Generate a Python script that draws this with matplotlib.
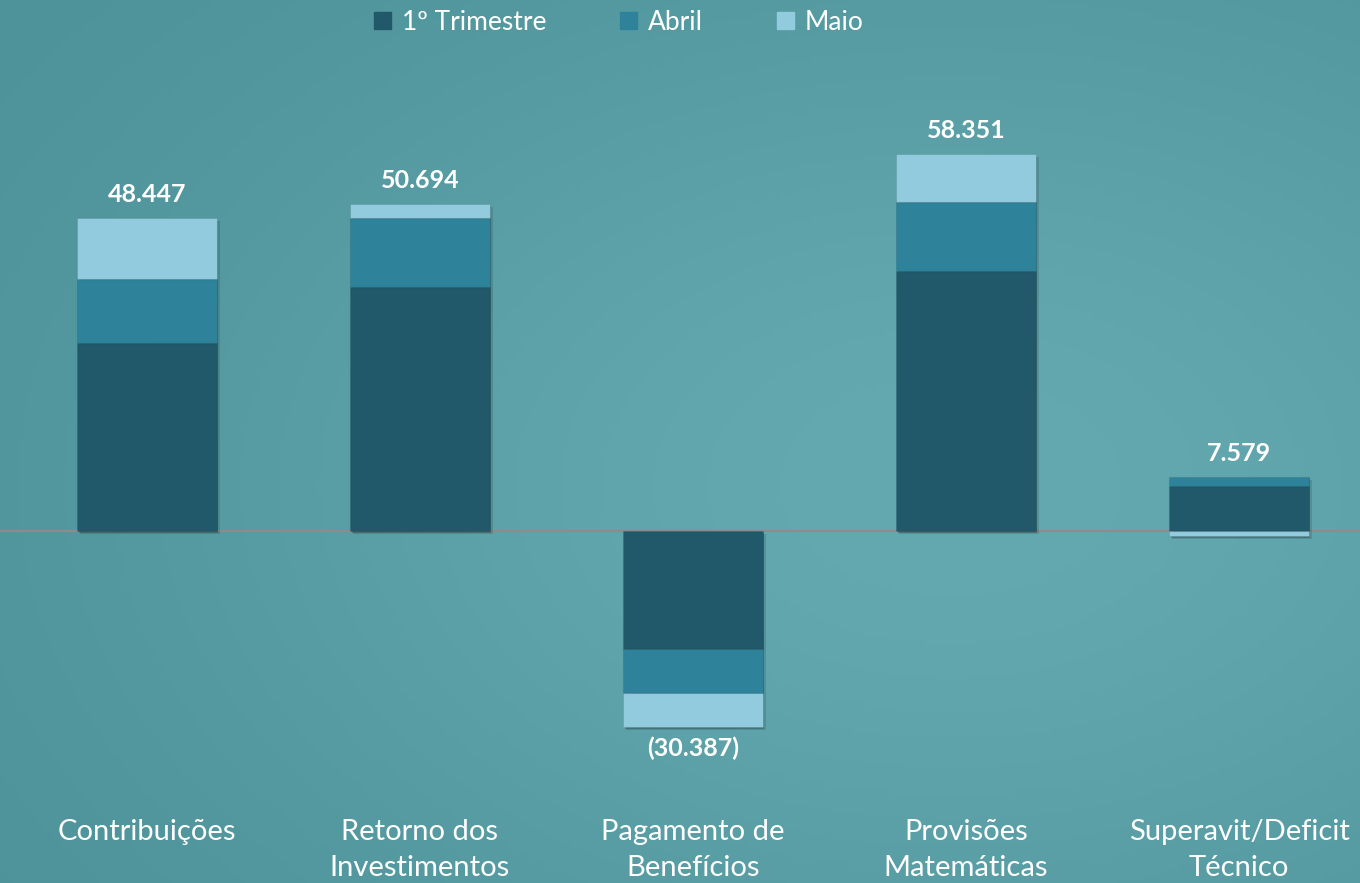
import numpy as np
import matplotlib.pyplot as plt
from matplotlib.colors import LinearSegmentedColormap
from matplotlib.patches import Patch

categories = ['Contribuições', 'Retorno dos\nInvestimentos', 'Pagamento de\nBenefícios',
              'Provisões\nMatemáticas', 'Superavit/Deficit\nTécnico']
trimestre = [29.1, 37.8, -18.3, 40.2, 6.9]
abril = [9.9, 10.7, -6.8, 10.8, 1.5]
maio = [9.447, 2.194, -5.287, 7.351, -0.821]
totals = ['48.447', '50.694', '(30.387)', '58.351', '7.579']

series = [('1º Trimestre', trimestre, '#21596a'),
          ('Abril', abril, '#2e8299'),
          ('Maio', maio, '#92cbdd')]

plt.rcParams['font.family'] = ['Lato', 'DejaVu Sans']

fig = plt.figure(figsize=(13.6, 8.83), dpi=100)
fig.patch.set_facecolor('#5a9ea5')
ax = fig.add_axes([0, 0, 1, 1])
ax.set_facecolor('none')

# soft chalkboard-like shading
gx, gy = np.meshgrid(np.linspace(-1, 1, 300), np.linspace(-1, 1, 200))
shade = np.exp(-((gx - 0.4) ** 2 / 1.5 + (gy - 0.1) ** 2 / 1.5))
bg = ax.inset_axes([0, 0, 1, 1], zorder=-5)
bg.imshow(shade, cmap=LinearSegmentedColormap.from_list('chalk', ['#4f939a', '#64a9b0']),
          aspect='auto', extent=[0, 1, 0, 1])
bg.axis('off')

x = np.arange(len(categories))
width = 0.51
pos_base = np.zeros(len(x))
neg_base = np.zeros(len(x))
for name, vals, color in series:
    vals = np.array(vals)
    base = np.where(vals >= 0, pos_base, neg_base)
    ax.bar(x, vals, width, bottom=base, color=color, label=name, zorder=3,
           edgecolor=(0, 0, 0, 0.08), linewidth=0.8)
    pos_base += np.where(vals >= 0, vals, 0)
    neg_base += np.where(vals < 0, vals, 0)

# soft drop shadow behind each full stack
for dx, dy, a in [(0.006, -0.25, 0.18), (0.011, -0.5, 0.12)]:
    ax.bar(x + dx, pos_base - neg_base, width, bottom=neg_base + dy,
           color='black', alpha=a, zorder=2.5, linewidth=0)

ax.axhline(0, color='#8c8c8c', linewidth=1.6, zorder=2)

for i, t in enumerate(totals):
    if t.startswith('('):
        ax.text(x[i], neg_base[i] - 1.4, t, ha='center', va='top', color='white',
                fontsize=18, fontweight='bold', zorder=5)
    else:
        ax.text(x[i], pos_base[i] + 1.8, t, ha='center', va='bottom', color='white',
                fontsize=18, fontweight='bold', zorder=5)

for i, c in enumerate(categories):
    ax.text(x[i], -44.6, c, ha='center', va='top', color='white', fontsize=21,
            linespacing=1.45, zorder=5)

ax.set_xlim(-0.538, 4.443)
ax.set_ylim(-54.5, 82.2)
ax.axis('off')

handles = [Patch(color=c, label=n) for n, _, c in series]
fig.legend(handles=handles, loc='upper center', bbox_to_anchor=(0.455, 1.016), ncol=3,
           frameon=False, fontsize=19, labelcolor='white', handlelength=0.65,
           handleheight=0.65, handletextpad=0.4, columnspacing=2.8)

fig.savefig('out.png', dpi=100)
